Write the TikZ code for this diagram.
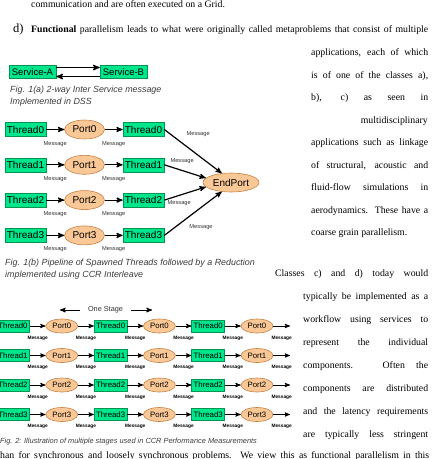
\documentclass[tikz,border=0pt]{standalone}
\usepackage{fontspec}
\setmainfont{Liberation Serif}
\setsansfont{Liberation Sans}
\usepackage{tikz}
\usetikzlibrary{arrows}
\usetikzlibrary{positioning}
\usetikzlibrary{shapes.geometric}

\definecolor{threadfill}{RGB}{0,230,140}
\definecolor{threadline}{RGB}{0,150,80}
\definecolor{portfill}{RGB}{250,200,150}
\definecolor{portline}{RGB}{200,130,70}
\definecolor{capgray}{RGB}{60,60,60}

% one justified text line
\newcommand{\jline}[2]{\makebox[#1][s]{#2}}

\begin{document}
\begin{tikzpicture}[
		x=1pt, y=-1pt,
		->,
		>=stealth',
		body/.style={font=\fontsize{9.8}{11}\selectfont, inner sep=0pt, anchor=base west},
		caption/.style={font=\sffamily\itshape\fontsize{8.9}{11.7}\selectfont, text=capgray,
			align=left, inner sep=0pt, anchor=north west},
		service node/.style={rectangle, draw=threadline, fill=threadfill, line width=0.6pt,
			font=\sffamily\fontsize{9.5}{11}\selectfont, inner sep=0pt,
			minimum width=47pt, minimum height=13pt},
		thread node/.style={rectangle, draw=threadline, fill=threadfill, line width=0.6pt,
			font=\sffamily\fontsize{10}{12}\selectfont, inner sep=0pt,
			minimum width=41pt, minimum height=14pt},
		port node/.style={ellipse, draw=portline, fill=portfill, line width=0.6pt,
			font=\sffamily\fontsize{10}{12}\selectfont, inner sep=0pt,
			minimum width=40pt, minimum height=19pt},
		thread small/.style={thread node, font=\sffamily\fontsize{7.8}{9}\selectfont,
			minimum width=33pt, minimum height=12pt},
		port small/.style={port node, font=\sffamily\fontsize{7.8}{9}\selectfont,
			minimum width=32pt, minimum height=14pt},
		msg/.style={font=\sffamily\fontsize{5.7}{6}\selectfont, text=black!80, inner sep=0pt},
		msg small/.style={font=\sffamily\bfseries\fontsize{4.8}{5}\selectfont, inner sep=0pt,
			below=9.5pt}
		]
		\useasboundingbox (0,0) rectangle (433,459);
		
		% running text
		\node[body] (l0) at (31,7) {communication and are often executed on a Grid.};
		\node[body, font=\fontsize{12.5}{14}\selectfont] (ld) at (13,32.5) {d)};
		\node[body] (l1) at (31,32.5) {\jline{397pt}{\textbf{Functional} parallelism leads to what were originally called metaproblems that consist of multiple}};
		\node[body] (r1) at (311,55.5) {\jline{117pt}{applications, each of which}};
		\node[body] (r2) at (311,78) {\jline{117pt}{is of one of the classes a),}};
		\node[body] (r3) at (311,100.5) {\jline{117pt}{b), c) as seen in}};
		\node[body, anchor=base east] (r4) at (428,123) {multidisciplinary};
		\node[body] (r5) at (311,145.5) {\jline{117pt}{applications such as linkage}};
		\node[body] (r6) at (311,168) {\jline{117pt}{of structural, acoustic and}};
		\node[body] (r7) at (311,190.5) {\jline{117pt}{fluid-flow simulations in}};
		\node[body] (r8) at (311,213) {\jline{117pt}{aerodynamics. These have a}};
		\node[body] (r9) at (311,235.5) {coarse grain parallelism.};
		\node[body] (q1) at (275,276) {\jline{153pt}{Classes c) and d) today would}};
		\node[body] (q2) at (303,299) {\jline{125pt}{typically be implemented as a}};
		\node[body] (q3) at (303,322) {\jline{125pt}{workflow using services to}};
		\node[body] (q4) at (303,345) {\jline{125pt}{represent the individual}};
		\node[body] (q5) at (303,368) {\jline{125pt}{components. Often the}};
		\node[body] (q6) at (303,391) {\jline{125pt}{components are distributed}};
		\node[body] (q7) at (303,414) {\jline{125pt}{and the latency requirements}};
		\node[body] (q8) at (303,437) {\jline{125pt}{are typically less stringent}};
		\node[body] (q9) at (0,458) {\jline{429pt}{han for synchronous and loosely synchronous problems. We view this as functional parallelism in this}};
		
		% Fig. 1(a)
		\node[service node] (sa) at (32.5,72) {Service-A};
		\node[service node] (sb) at (123.5,72) {Service-B};
		\draw[line width=1.3pt] ([yshift=4.5pt]sa.east) -- ([yshift=4.5pt]sb.west);
		\draw[line width=1.3pt] ([yshift=-4.5pt]sb.west) -- ([yshift=-4.5pt]sa.east);
		\node[caption] (cap1a) at (10,86) {Fig. 1(a) 2-way Inter Service message\\Implemented in DSS};
		
		% Fig. 1(b)
		\begin{scope}[node distance=59pt, line width=1.2pt]
		\node[thread node] (t0a) at (25.5,129.5) {Thread0};
		\node[port node] (p0) [right of=t0a] {Port0};
		\node[thread node] (t0b) [right of=p0] {Thread0};
		\node[thread node] (t1a) at (25.5,164.8) {Thread1};
		\node[port node] (p1) [right of=t1a] {Port1};
		\node[thread node] (t1b) [right of=p1] {Thread1};
		\node[thread node] (t2a) at (25.5,200.1) {Thread2};
		\node[port node] (p2) [right of=t2a] {Port2};
		\node[thread node] (t2b) [right of=p2] {Thread2};
		\node[thread node] (t3a) at (25.5,235.4) {Thread3};
		\node[port node] (p3) [right of=t3a] {Port3};
		\node[thread node] (t3b) [right of=p3] {Thread3};
		\node[port node, minimum width=56pt] (endport) at (231,182.5) {EndPort};
		
		\path
		(t0a) edge node[msg, below=11pt] {Message} (p0)
		(p0) edge node[msg, below=11pt] {Message} (t0b)
		(t1a) edge node[msg, below=11pt] {Message} (p1)
		(p1) edge node[msg, below=11pt] {Message} (t1b)
		(t2a) edge node[msg, below=11pt] {Message} (p2)
		(p2) edge node[msg, below=11pt] {Message} (t2b)
		(t3a) edge node[msg, below=11pt] {Message} (p3)
		(p3) edge node[msg, below=11pt] {Message} (t3b);
		\path
		(t0b.east) edge node[msg, pos=0.59, above=18.5pt] {Message} (endport.135)
		(t1b.east) edge node[msg, pos=0.43, above=5.8pt] {Message} (endport.170)
		(t2b.east) edge node[msg, pos=0.36, below=4.9pt] {Message} (endport.190)
		(t3b.east) edge node[msg, pos=0.64, below=17pt] {Message} (endport.225);
		\end{scope}
		\node[caption] (cap1b) at (5,259) {Fig. 1(b) Pipeline of Spawned Threads followed by a Reduction\\implemented using CCR Interleave};
		
		% Fig. 2
		\node[font=\sffamily\fontsize{7.3}{8}\selectfont, text=black!80, inner xsep=8pt, inner ysep=0pt] (stage) at (105.5,310) {One Stage};
		\coordinate (stl) at (60,310);
		\coordinate (str) at (152,310);
		\draw[line width=1pt] (stage.west) -- (stl);
		\draw[line width=1pt] (stage.east) -- (str);
		\begin{scope}[node distance=48.8pt, line width=0.9pt]
		\foreach \r/\yy in {0/326,1/355.5,2/385,3/414.5} {
			\node[thread small] (g\r-1) at (13,\yy) {Thread\r};
			\node[port small] (g\r-2) [right of=g\r-1] {Port\r};
			\node[thread small] (g\r-3) [right of=g\r-2] {Thread\r};
			\node[port small] (g\r-4) [right of=g\r-3] {Port\r};
			\node[thread small] (g\r-5) [right of=g\r-4] {Thread\r};
			\node[port small] (g\r-6) [right of=g\r-5] {Port\r};
			\coordinate (g\r-7) at (290,\yy);
			\path
			(g\r-1) edge node[msg small] {Message} (g\r-2)
			(g\r-2) edge node[msg small] {Message} (g\r-3)
			(g\r-3) edge node[msg small] {Message} (g\r-4)
			(g\r-4) edge node[msg small] {Message} (g\r-5)
			(g\r-5) edge node[msg small] {Message} (g\r-6)
			(g\r-6) edge node[msg small] {Message} (g\r-7);
		}
		\end{scope}
		\node[caption, anchor=base west, font=\sffamily\itshape\fontsize{7.4}{8}\selectfont] (cap2) at (0,443.5) {Fig. 2: Illustration of multiple stages used in CCR Performance Measurements};
	\end{tikzpicture}
\end{document}
